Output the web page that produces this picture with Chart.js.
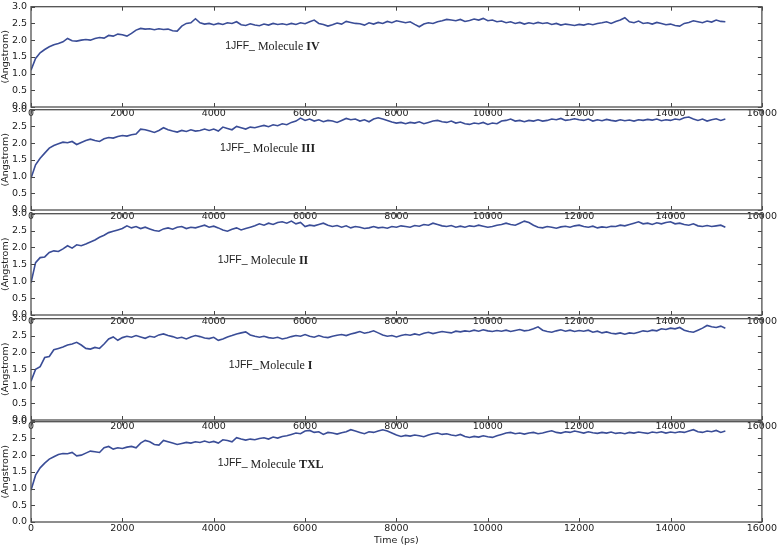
<!DOCTYPE html>
<html><head><meta charset="utf-8">
<script src="https://cdn.jsdelivr.net/npm/chart.js@4.4.1/dist/chart.umd.min.js"></script>
<style>
html,body{margin:0;padding:0;background:#fff;width:778px;height:546px;overflow:hidden;position:relative;}
canvas{position:absolute;left:0;}
</style></head><body>
<script>
// sampling grid of the trajectory (ps)
const timePs = Array.from({length: 153}, (_, i) => i * 100);

const rmsdMolIV = [
1.10,1.45,1.62,1.72,1.80,1.86,1.90,1.95,2.05,1.98,
1.97,2.00,2.02,2.00,2.05,2.08,2.06,2.14,2.12,2.18,
2.16,2.12,2.20,2.30,2.35,2.33,2.34,2.31,2.34,2.32,
2.33,2.28,2.27,2.42,2.50,2.52,2.64,2.52,2.48,2.50,
2.46,2.50,2.47,2.52,2.50,2.55,2.46,2.44,2.49,2.45,
2.43,2.48,2.45,2.50,2.47,2.49,2.46,2.50,2.47,2.52,
2.49,2.55,2.60,2.50,2.47,2.42,2.46,2.51,2.48,2.56,
2.53,2.50,2.49,2.45,2.52,2.48,2.53,2.50,2.56,2.52,
2.58,2.55,2.52,2.55,2.47,2.40,2.48,2.52,2.50,2.55,
2.58,2.62,2.60,2.58,2.62,2.56,2.59,2.63,2.60,2.65,
2.58,2.60,2.55,2.57,2.52,2.55,2.50,2.53,2.48,2.52,
2.49,2.53,2.50,2.52,2.47,2.50,2.45,2.48,2.46,2.44,
2.47,2.45,2.49,2.46,2.50,2.52,2.55,2.50,2.56,2.60,
2.67,2.55,2.52,2.57,2.50,2.52,2.48,2.53,2.50,2.46,
2.48,2.44,2.42,2.50,2.53,2.58,2.55,2.52,2.57,2.54,
2.60,2.56,2.55];

const rmsdMolIII = [
0.95,1.35,1.55,1.70,1.85,1.93,1.98,2.03,2.01,2.05,
1.96,2.02,2.08,2.12,2.08,2.05,2.13,2.17,2.15,2.20,
2.23,2.21,2.25,2.27,2.42,2.40,2.36,2.32,2.38,2.46,
2.40,2.36,2.33,2.38,2.35,2.40,2.36,2.38,2.42,2.38,
2.42,2.36,2.48,2.44,2.40,2.50,2.46,2.42,2.48,2.46,
2.50,2.53,2.49,2.55,2.52,2.58,2.55,2.62,2.66,2.75,
2.68,2.72,2.66,2.70,2.64,2.68,2.66,2.62,2.68,2.74,
2.70,2.72,2.66,2.70,2.64,2.72,2.76,2.72,2.68,2.63,
2.60,2.62,2.58,2.62,2.60,2.64,2.58,2.62,2.66,2.68,
2.64,2.62,2.66,2.60,2.63,2.58,2.56,2.60,2.58,2.62,
2.56,2.60,2.58,2.66,2.68,2.72,2.66,2.68,2.64,2.68,
2.66,2.70,2.66,2.68,2.72,2.70,2.74,2.68,2.70,2.73,
2.70,2.68,2.72,2.66,2.70,2.67,2.71,2.68,2.66,2.70,
2.67,2.69,2.66,2.70,2.68,2.71,2.69,2.72,2.67,2.70,
2.68,2.72,2.70,2.76,2.78,2.72,2.68,2.72,2.66,2.70,
2.73,2.68,2.72];

const rmsdMolII = [
0.95,1.55,1.70,1.72,1.85,1.90,1.88,1.96,2.05,1.98,
2.08,2.05,2.10,2.16,2.22,2.30,2.36,2.44,2.48,2.52,
2.56,2.64,2.58,2.62,2.56,2.60,2.55,2.50,2.48,2.55,
2.58,2.54,2.60,2.62,2.56,2.60,2.58,2.62,2.66,2.60,
2.63,2.58,2.52,2.48,2.54,2.58,2.52,2.56,2.60,2.64,
2.70,2.66,2.72,2.68,2.74,2.76,2.72,2.78,2.70,2.74,
2.62,2.66,2.64,2.68,2.72,2.66,2.62,2.65,2.60,2.64,
2.58,2.62,2.60,2.56,2.58,2.62,2.58,2.60,2.57,2.62,
2.60,2.64,2.62,2.60,2.65,2.63,2.68,2.66,2.72,2.68,
2.64,2.62,2.65,2.60,2.63,2.60,2.64,2.62,2.66,2.63,
2.60,2.62,2.66,2.68,2.72,2.68,2.66,2.72,2.78,2.74,
2.66,2.60,2.58,2.62,2.60,2.57,2.61,2.63,2.60,2.64,
2.66,2.62,2.60,2.63,2.58,2.61,2.59,2.63,2.62,2.66,
2.64,2.68,2.72,2.76,2.70,2.72,2.68,2.73,2.70,2.74,
2.76,2.70,2.72,2.68,2.66,2.70,2.64,2.62,2.65,2.62,
2.64,2.66,2.60];

const rmsdMolI = [
1.15,1.50,1.58,1.85,1.88,2.08,2.12,2.16,2.22,2.25,
2.30,2.22,2.12,2.10,2.15,2.12,2.25,2.40,2.46,2.36,
2.44,2.48,2.45,2.50,2.46,2.42,2.48,2.45,2.52,2.55,
2.50,2.47,2.42,2.45,2.40,2.46,2.50,2.47,2.43,2.41,
2.45,2.36,2.40,2.46,2.50,2.55,2.58,2.61,2.52,2.48,
2.45,2.48,2.44,2.42,2.45,2.40,2.43,2.47,2.50,2.48,
2.53,2.48,2.45,2.50,2.46,2.44,2.48,2.51,2.53,2.50,
2.55,2.58,2.62,2.57,2.60,2.64,2.58,2.52,2.48,2.50,
2.46,2.50,2.53,2.51,2.55,2.52,2.57,2.60,2.56,2.59,
2.62,2.60,2.58,2.63,2.61,2.64,2.62,2.66,2.63,2.67,
2.64,2.62,2.65,2.63,2.66,2.62,2.65,2.68,2.64,2.66,
2.70,2.76,2.66,2.62,2.60,2.64,2.67,2.63,2.66,2.62,
2.65,2.63,2.66,2.60,2.63,2.58,2.61,2.57,2.55,2.58,
2.54,2.58,2.56,2.60,2.64,2.62,2.66,2.64,2.70,2.68,
2.72,2.70,2.74,2.66,2.62,2.60,2.66,2.72,2.80,2.76,
2.74,2.78,2.72];

const rmsdMolTXL = [
0.95,1.40,1.62,1.76,1.88,1.95,2.02,2.05,2.04,2.08,
1.98,2.00,2.06,2.12,2.10,2.08,2.22,2.26,2.18,2.22,
2.20,2.24,2.26,2.22,2.36,2.44,2.40,2.32,2.30,2.44,
2.40,2.36,2.32,2.35,2.38,2.36,2.40,2.38,2.42,2.38,
2.41,2.36,2.46,2.44,2.40,2.52,2.48,2.45,2.48,2.46,
2.50,2.52,2.48,2.54,2.51,2.56,2.58,2.62,2.66,2.64,
2.72,2.74,2.68,2.70,2.62,2.68,2.66,2.63,2.67,2.70,
2.76,2.72,2.68,2.64,2.70,2.68,2.72,2.76,2.72,2.66,
2.60,2.56,2.59,2.57,2.60,2.58,2.55,2.60,2.64,2.66,
2.62,2.64,2.60,2.58,2.62,2.56,2.53,2.56,2.54,2.58,
2.55,2.53,2.58,2.62,2.66,2.68,2.64,2.66,2.63,2.66,
2.68,2.64,2.66,2.70,2.73,2.68,2.66,2.70,2.68,2.72,
2.69,2.66,2.70,2.67,2.65,2.68,2.66,2.69,2.65,2.67,
2.64,2.68,2.66,2.69,2.67,2.65,2.69,2.67,2.70,2.66,
2.69,2.67,2.70,2.68,2.72,2.76,2.70,2.68,2.72,2.70,
2.74,2.68,2.72];

const xTickValues = [0,2000,4000,6000,8000,10000,12000,14000,16000];
const yTickValues = [0,0.5,1.0,1.5,2.0,2.5,3.0];
const panelSeries = [rmsdMolIV, rmsdMolIII, rmsdMolII, rmsdMolI, rmsdMolTXL];
const panelTags = ["IV","III","II","I","TXL"];
const panelPrefix = ["1JFF_","1JFF_","1JFF_","1JFF_","1JFF_"];
const yAxisTitle = "(Angstrom)";
const xAxisTitle = "Time (ps)";

// layout (pixels) and annotation anchors (data coordinates)
const panelBoxes = [
  {top:4,   bottom:107, ax:4250, ay:1.83, gap:3},
  {top:107, bottom:210, ax:4140, ay:1.86, gap:3},
  {top:211, bottom:315, ax:4090, ay:1.64, gap:3},
  {top:316, bottom:420, ax:4330, ay:1.64, gap:1},
  {top:419, bottom:522, ax:4090, ay:1.75, gap:3}
];

const LINE_COLOR = '#3a4d97';
const TEXT_COLOR = '#222';
const TICK_FONT = {family:'"DejaVu Sans", sans-serif', size:9.5};
const PAD_TOP = 7;

const framePlugin = {
  id: 'frame',
  afterDatasetsDraw(chart, args, opts) {
    const {ctx, chartArea: a} = chart;
    const x = chart.scales.x, y = chart.scales.y;
    ctx.save();
    ctx.strokeStyle = '#444';
    ctx.lineWidth = 1;
    ctx.beginPath();
    x.ticks.forEach(t => {
      const px = Math.round(x.getPixelForValue(t.value)) + 0.5;
      ctx.moveTo(px, a.bottom); ctx.lineTo(px, a.bottom - 4);
      ctx.moveTo(px, a.top); ctx.lineTo(px, a.top + 4);
    });
    y.ticks.forEach(t => {
      const py = Math.round(y.getPixelForValue(t.value)) + 0.5;
      ctx.moveTo(a.left, py); ctx.lineTo(a.left + 4, py);
      ctx.moveTo(a.right, py); ctx.lineTo(a.right - 4, py);
    });
    ctx.stroke();
    ctx.strokeStyle = '#505050';
    ctx.lineWidth = 1.3;
    ctx.strokeRect(a.left, a.top, a.right - a.left, a.bottom - a.top);
    // annotation
    let tx = x.getPixelForValue(opts.ax);
    const ty = y.getPixelForValue(opts.ay);
    ctx.fillStyle = TEXT_COLOR;
    ctx.textBaseline = 'middle';
    ctx.textAlign = 'left';
    ctx.font = '10.5px "Liberation Sans", sans-serif';
    ctx.fillText(opts.prefix, tx, ty);
    tx += ctx.measureText(opts.prefix).width + opts.gap;
    ctx.font = '12px "Liberation Serif", serif';
    const m = 'Molecule ';
    ctx.fillText(m, tx, ty + 1);
    tx += ctx.measureText(m).width;
    ctx.font = 'bold 12px "Liberation Serif", serif';
    ctx.fillText(opts.tag, tx, ty + 1);
    ctx.restore();
  }
};

panelSeries.forEach((series, i) => {
  const box = panelBoxes[i];
  const isLast = i === panelSeries.length - 1;
  const xh = isLast ? (546 - box.bottom) : 14;
  const cv = document.createElement('canvas');
  const h = PAD_TOP + (box.bottom - box.top) + xh;
  cv.width = 778; cv.height = h;
  cv.style.width = '778px'; cv.style.height = h + 'px';
  cv.style.top = (box.top - PAD_TOP) + 'px';
  document.body.appendChild(cv);
  new Chart(cv, {
    type: 'line',
    data: {
      datasets: [{
        data: timePs.map((t, k) => ({x: t, y: series[k]})),
        borderColor: LINE_COLOR,
        borderWidth: 1.6,
        pointRadius: 0,
        tension: 0,
        fill: false
      }]
    },
    options: {
      responsive: false,
      animation: false,
      events: [],
      parsing: false,
      layout: {padding: {top: PAD_TOP, right: 16, left: 0, bottom: 0}},
      plugins: {
        legend: {display: false},
        tooltip: {enabled: false},
        frame: {ax: box.ax, ay: box.ay, gap: box.gap, prefix: panelPrefix[i], tag: panelTags[i]}
      },
      scales: {
        x: {
          type: 'linear', min: 0, max: 16000,
          afterBuildTicks: s => { s.ticks = xTickValues.map(v => ({value: v})); },
          ticks: {font: TICK_FONT, color: TEXT_COLOR, padding: 1, maxRotation: 0, autoSkip: false,
                  callback: v => String(v)},
          grid: {display: false, drawTicks: false},
          border: {display: false},
          title: isLast ? {display: true, text: xAxisTitle, color: TEXT_COLOR, font: TICK_FONT, padding: {top: 0, bottom: 0}} : {display: false},
          afterFit: s => { s.height = xh; }
        },
        y: {
          type: 'linear', min: 0, max: 3,
          afterBuildTicks: s => { s.ticks = yTickValues.map(v => ({value: v})); },
          ticks: {font: TICK_FONT, color: TEXT_COLOR, padding: 4, callback: v => Number(v).toFixed(1)},
          grid: {display: false, drawTicks: false},
          border: {display: false},
          title: {display: true, text: yAxisTitle, color: TEXT_COLOR, font: TICK_FONT, padding: 0},
          afterFit: s => { s.width = 31; }
        }
      }
    },
    plugins: [framePlugin]
  });
});
</script>
</body></html>
